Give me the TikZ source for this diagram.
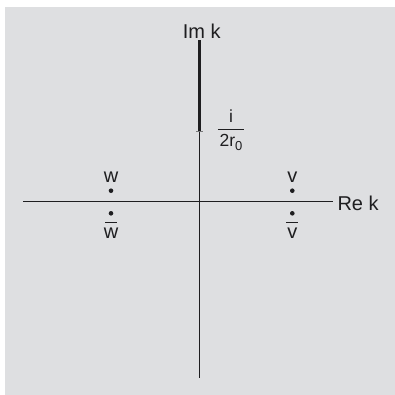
\documentclass[tikz,border=0pt]{standalone}
\usepackage{fontspec}
\setmainfont{Liberation Sans}
\definecolor{bgc}{RGB}{222,223,225}
\definecolor{ink}{RGB}{30,30,32}
\newcommand\barred[1]{\vbox{\offinterlineskip\hbox to \wd0{\hss\vrule width 12bp height 1.2bp\hss}\kern4.8bp\hbox{#1}}}
\newcommand\setbarred[1]{\setbox0\hbox{#1}\barred{#1}}
\newcommand\myfrac[2]{\vbox{\tabskip=1.8bp\halign{\hfil##\hfil\cr #1\cr\noalign{\kern6.1bp\hrule height 1.2bp\kern3.8bp}#2\cr}}}
\begin{document}
\begin{tikzpicture}[x=1bp,y=-1bp,
  lbl/.style={inner sep=0pt,outer sep=0pt,text=ink,font=\fontsize{20bp}{24bp}\selectfont},
  fraclbl/.style={inner sep=0pt,outer sep=0pt,text=ink,font=\fontsize{17.5bp}{20bp}\selectfont},
  axis/.style={draw=ink,line width=1.2bp},
  cut/.style={draw=ink,line width=2.4bp},
  pole/.style={circle,fill=ink,inner sep=0pt,minimum size=4.6bp}]
\useasboundingbox (0,0) rectangle (395,395);
\fill[bgc] (5,7) rectangle (395,395);
% axes
\coordinate (xl) at (23,201.7);
\coordinate (xr) at (333,201.7);
\coordinate (yt) at (199.3,40);
\coordinate (yb) at (199.3,378);
\coordinate (yc) at (199.3,131.7);
\coordinate (tl) at (196,131.7);
\coordinate (tr) at (203,131.7);
\draw[axis] (xl) -- (xr);
\draw[axis] (yc) -- (yb);
\draw[cut] (yt) -- (yc);
\draw[draw=ink!60,line width=0.7bp] (tl) -- (tr);
% labels
\node[lbl,anchor=base] (imk) at (201.7,38.3) {Im k};
\node[lbl,anchor=base west] (rek) at (337.5,210.7) {Re k};
\node[fraclbl,anchor=base] (frac) at (231,146.3) {\myfrac{i}{2r\raisebox{-4.5bp}{\fontsize{13bp}{15bp}\selectfont 0}}};
% poles
\node[pole] (pw) at (111,190.7) {};
\node[pole] (pv) at (292.3,190.7) {};
\node[pole] (pwb) at (111,213.3) {};
\node[pole] (pvb) at (292.3,213.3) {};
\node[lbl,anchor=base] (lw) at (111,182.7) {w};
\node[lbl,anchor=base] (lv) at (292.3,182.7) {v};
\node[lbl,anchor=base] (lwb) at (111,238.3) {\setbarred{w}};
\node[lbl,anchor=base] (lvb) at (292.3,238.3) {\setbarred{v}};
\end{tikzpicture}
\end{document}
